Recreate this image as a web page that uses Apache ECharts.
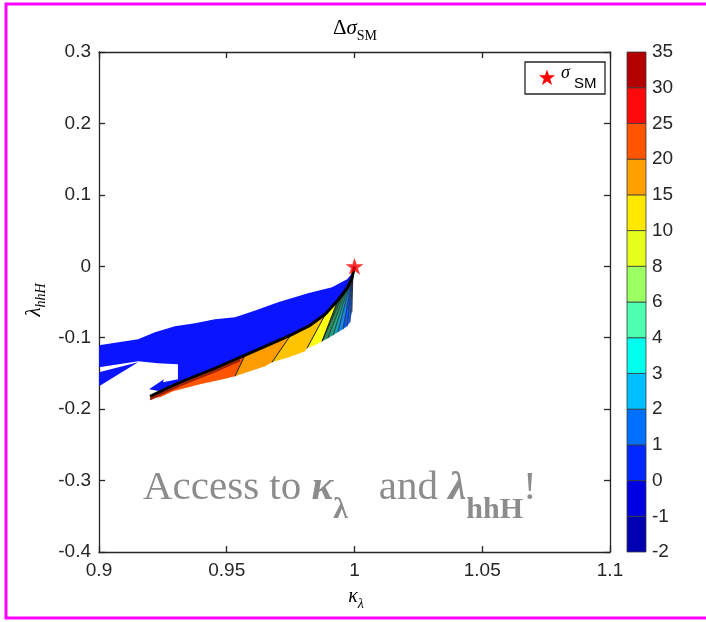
<!DOCTYPE html>
<html>
<head>
<meta charset="utf-8">
<script src="https://cdn.jsdelivr.net/npm/echarts@6/dist/echarts.min.js"></script>
<style>
  html, body { margin: 0; padding: 0; background: #ffffff; }
  #chart { width: 706px; height: 622px; }
</style>
</head>
<body>
<div id="chart"></div>
<script>
// ---- axes ----
const kappaTicks = [0.9, 0.95, 1, 1.05, 1.1];
const lambdaTicks = [-0.4, -0.3, -0.2, -0.1, 0, 0.1, 0.2, 0.3];

// ---- colour scale of the filled contours (level boundaries, one colour per band) ----
const colorLevels = [-2, -1, 0, 1, 2, 3, 4, 6, 8, 10, 15, 20, 25, 30, 35];
const levelColors = ['#0000b0', '#0000e0', '#0028ff', '#0070ff', '#00bfff', '#00ffee', '#4dffb0',
                     '#9cff62', '#e6ff1a', '#ffe800', '#ffa000', '#ff5500', '#ff0a0a', '#b30000'];

// ---- Standard-Model point ----
const smPoint = [1, 0];

// ---- contour regions (kappa_lambda, lambda_hhH) ----
const blueRegion = [
  [0.9000, -0.1106], [0.9153, -0.1022], [0.9219, -0.0924], [0.9297, -0.0840], [0.9376, -0.0798],
  [0.9454, -0.0742], [0.9532, -0.0714], [0.9603, -0.0630], [0.9701, -0.0504], [0.9818, -0.0378],
  [0.9912, -0.0294], [0.9971, -0.0182], [0.9994, -0.0084], [1.0000, 0.0000],
  [0.9990, -0.0168], [0.9971, -0.0308], [0.9935, -0.0476], [0.9885, -0.0672], [0.9826, -0.0826],
  [0.9748, -0.0966], [0.9650, -0.1120], [0.9552, -0.1275], [0.9454, -0.1429], [0.9415, -0.1485],
  [0.9356, -0.1569], [0.9309, -0.1639],
  [0.9239, -0.1751], [0.9196, -0.1723], [0.9254, -0.1583], [0.9250, -0.1625], [0.9309, -0.1583],
  [0.9309, -0.1373], [0.9231, -0.1359], [0.9153, -0.1331], [0.9000, -0.1415]
];
const blueFinger = [[0.9000, -0.1485], [0.9153, -0.1345], [0.9000, -0.1681]];

const band20to25 = [
  [0.9200, -0.1821], [0.9258, -0.1723], [0.9309, -0.1639], [0.9356, -0.1569], [0.9415, -0.1485],
  [0.9454, -0.1429], [0.9552, -0.1275], [0.9571, -0.1246], [0.9532, -0.1541], [0.9485, -0.1583],
  [0.9395, -0.1653], [0.9290, -0.1751], [0.9239, -0.1835], [0.9200, -0.1849]
];
const band15to20 = [
  [0.9571, -0.1246], [0.9650, -0.1120], [0.9748, -0.0966], [0.9751, -0.0959], [0.9677, -0.1345],
  [0.9650, -0.1401], [0.9579, -0.1485], [0.9532, -0.1541]
];
const band10to15 = [
  [0.9751, -0.0959], [0.9826, -0.0826], [0.9885, -0.0672], [0.9888, -0.0658], [0.9814, -0.1148],
  [0.9806, -0.1190], [0.9755, -0.1261], [0.9677, -0.1345]
];
const band8to10 = [
  [0.9888, -0.0658], [0.9935, -0.0476], [0.9873, -0.1050], [0.9845, -0.1106], [0.9814, -0.1148]
];
const fanRoot = [
  [0.9935, -0.0476], [0.9971, -0.0308], [0.9990, -0.0168], [0.9994, -0.0084], [0.9873, -0.1050]
];
const fanApex = [0.9994, -0.0084];
const fanTips = [
  [0.9873, -0.1050], [0.9896, -0.1008], [0.9916, -0.0966], [0.9935, -0.0924],
  [0.9955, -0.0882], [0.9971, -0.0840], [0.9982, -0.0784], [0.9990, -0.0644]
];
const fanColors = ['#2e8b57', '#23a585', '#12a0b5', '#1a86e8', '#0a5cff', '#1566ff', '#2a7cff'];

// contour lines
const boundaryCurve = [
  [0.9200, -0.1821], [0.9258, -0.1723], [0.9309, -0.1639], [0.9356, -0.1569], [0.9415, -0.1485],
  [0.9454, -0.1429], [0.9552, -0.1275], [0.9650, -0.1120], [0.9748, -0.0966], [0.9826, -0.0826],
  [0.9885, -0.0672], [0.9935, -0.0476], [0.9971, -0.0308], [0.9990, -0.0168], [1.0000, 0.0000]
];
const warmEdge = [
  [0.9200, -0.1821], [0.9258, -0.1723], [0.9309, -0.1639], [0.9356, -0.1569], [0.9415, -0.1485],
  [0.9454, -0.1429], [0.9552, -0.1275]
];
const dividers = [
  [[0.9571, -0.1246], [0.9532, -0.1541]],
  [[0.9751, -0.0959], [0.9677, -0.1345]],
  [[0.9888, -0.0658], [0.9814, -0.1148]],
  [[0.9935, -0.0476], [0.9873, -0.1050]]
];

// ---- assemble drawable lists ----
const blueFill = '#0a14ff';
const contourFills = [
  { points: blueRegion, color: blueFill },
  { points: blueFinger, color: blueFill },
  { points: band20to25, color: '#ff5500' },
  { points: band15to20, color: '#ff9c00' },
  { points: band10to15, color: '#ffc400' },
  { points: band8to10, color: '#ffff10' },
  { points: fanRoot, color: '#1f6f4a' }
];
for (let i = 0; i < fanTips.length - 1; i++) {
  contourFills.push({ points: [fanApex, fanTips[i], fanTips[i + 1]], color: fanColors[i] });
}

const contourLines = [];
dividers.forEach(d => contourLines.push({ points: d, color: '#1a1a1a', width: 1 }));
fanTips.forEach(t => contourLines.push({ points: [fanApex, t], color: '#111111', width: 0.7 }));
contourLines.push({ points: warmEdge, color: '#9a1c00', width: 2, shift: 3 });
contourLines.push({ points: boundaryCurve, color: '#000000', width: 3 });

// ---- pentagram helper for the legend glyph ----
function starPoints(cx, cy, R, r) {
  const pts = [];
  for (let k = 0; k < 10; k++) {
    const rad = k % 2 === 0 ? R : r;
    const a = -Math.PI / 2 + k * Math.PI / 5;
    pts.push([cx + rad * Math.cos(a), cy + rad * Math.sin(a)]);
  }
  return pts;
}
const starPath = 'path://M50,0L61.2,34.5L97.6,34.5L68.2,55.9L79.4,90.5L50,69.1L20.6,90.5L31.8,55.9L2.4,34.5L38.8,34.5Z';

const ink = '#262626';
const serif = 'Liberation Serif';
const sans = 'Liberation Sans';
const fmtTick = v => String(Math.round(v * 1000) / 1000);

const axisCommon = {
  axisLine: { onZero: false, lineStyle: { color: ink, width: 1.3 } },
  axisTick: { inside: true, length: 6, lineStyle: { color: ink, width: 1.3 } },
  splitLine: { show: false }
};
const tickLabel = { color: ink, fontSize: 19, fontFamily: sans };

const chart = echarts.init(document.getElementById('chart'), null, { renderer: 'canvas' });

chart.setOption({
  animation: false,
  backgroundColor: '#ffffff',
  grid: [
    { left: 99, right: 96, top: 52, bottom: 70, outerBoundsMode: 'none' },
    { left: 627, width: 19, top: 52, height: 500, outerBoundsMode: 'none' }
  ],
  xAxis: [
    Object.assign({ gridIndex: 0, type: 'value', position: 'bottom',
      min: kappaTicks[0], max: kappaTicks[kappaTicks.length - 1], interval: 0.05,
      axisLabel: Object.assign({ margin: 9, formatter: fmtTick }, tickLabel) }, axisCommon),
    Object.assign({ gridIndex: 0, type: 'value', position: 'top',
      min: kappaTicks[0], max: kappaTicks[kappaTicks.length - 1], interval: 0.05,
      axisLabel: { show: false } }, axisCommon),
    { gridIndex: 1, type: 'value', min: 0, max: 1, show: false }
  ],
  yAxis: [
    Object.assign({ gridIndex: 0, type: 'value', position: 'left',
      min: lambdaTicks[0], max: lambdaTicks[lambdaTicks.length - 1], interval: 0.1,
      axisLabel: Object.assign({ margin: 8, formatter: fmtTick }, tickLabel) }, axisCommon),
    Object.assign({ gridIndex: 0, type: 'value', position: 'right',
      min: lambdaTicks[0], max: lambdaTicks[lambdaTicks.length - 1], interval: 0.1,
      axisLabel: { show: false } }, axisCommon),
    { gridIndex: 1, type: 'value', position: 'right', min: 0, max: colorLevels.length - 1, interval: 1,
      axisLine: { show: false }, axisTick: { show: false }, splitLine: { show: false },
      axisLabel: Object.assign({ margin: 6, formatter: v => String(colorLevels[v]) }, tickLabel) }
  ],
  series: [
    {
      type: 'custom', name: 'contour fills', xAxisIndex: 0, yAxisIndex: 0, z: 2,
      data: contourFills.map(f => f.points[0]),
      encode: { x: 0, y: 1 },
      renderItem: (params, api) => {
        const f = contourFills[params.dataIndex];
        return { type: 'polygon', shape: { points: f.points.map(p => api.coord(p)) },
                 style: { fill: f.color } };
      }
    },
    {
      type: 'custom', name: 'contour lines', xAxisIndex: 0, yAxisIndex: 0, z: 3,
      data: contourLines.map(l => l.points[0]),
      encode: { x: 0, y: 1 },
      renderItem: (params, api) => {
        const l = contourLines[params.dataIndex];
        return { type: 'polyline', y: l.shift || 0,
                 shape: { points: l.points.map(p => api.coord(p)) },
                 style: { stroke: l.color, lineWidth: l.width, fill: null, lineJoin: 'round' } };
      }
    },
    {
      type: 'scatter', name: 'σSM', xAxisIndex: 0, yAxisIndex: 0, z: 5,
      data: [smPoint], symbol: starPath, symbolSize: [18, 17],
      itemStyle: { color: '#ff0000' }
    },
    {
      type: 'custom', name: 'colorbar', xAxisIndex: 2, yAxisIndex: 2,
      data: levelColors.map((c, i) => [0, i]),
      encode: { x: 0, y: 1 },
      renderItem: (params, api) => {
        const i = api.value(1);
        const a = api.coord([0, i]);
        const b = api.coord([1, i + 1]);
        return { type: 'rect', shape: { x: a[0], y: b[1], width: b[0] - a[0], height: a[1] - b[1] },
                 style: { fill: levelColors[i], stroke: '#3a3a3a', lineWidth: 0.8 } };
      }
    }
  ],
  graphic: [
    // page frame
    { type: 'rect', shape: { x: 6, y: 4, width: 720, height: 614 },
      style: { fill: null, stroke: '#ff00ff', lineWidth: 3 }, z: 100 },
    // title
    { type: 'text', x: 355, y: 32,
      style: { text: '{a|Δ}{b|σ}{c|SM}', align: 'center', verticalAlign: 'middle',
        rich: {
          a: { fontFamily: serif, fontSize: 21, fill: '#000', verticalAlign: 'bottom', lineHeight: 22, padding: [0, 0, 4, 0] },
          b: { fontFamily: serif, fontStyle: 'italic', fontSize: 21, fill: '#000', verticalAlign: 'bottom', lineHeight: 22, padding: [0, 0, 4, 0] },
          c: { fontFamily: serif, fontSize: 14, fill: '#000', verticalAlign: 'bottom', lineHeight: 16 }
        } } },
    // x axis name
    { type: 'text', x: 356, y: 601,
      style: { text: '{a|κ}{b|λ}', align: 'center', verticalAlign: 'middle',
        rich: {
          a: { fontFamily: serif, fontStyle: 'italic', fontSize: 20, fill: '#000', verticalAlign: 'bottom', lineHeight: 20, padding: [0, 0, 4, 0] },
          b: { fontFamily: serif, fontStyle: 'italic', fontSize: 14, fill: '#000', verticalAlign: 'bottom', lineHeight: 15 }
        } } },
    // y axis name
    { type: 'text', x: 38, y: 300, rotation: Math.PI / 2,
      style: { text: '{a|λ}{b|hhH}', align: 'center', verticalAlign: 'middle',
        rich: {
          a: { fontFamily: serif, fontStyle: 'italic', fontSize: 21, fill: '#000', verticalAlign: 'bottom', lineHeight: 21, padding: [0, 0, 4, 0] },
          b: { fontFamily: serif, fontStyle: 'italic', fontSize: 14, fill: '#000', verticalAlign: 'bottom', lineHeight: 15 }
        } } },
    // legend box
    { type: 'rect', shape: { x: 525, y: 62, width: 80, height: 32 },
      style: { fill: '#ffffff', stroke: ink, lineWidth: 1.3 }, z: 10 },
    { type: 'polygon', shape: { points: starPoints(547, 78, 8.5, 3.4) },
      style: { fill: '#ff0000' }, z: 11 },
    { type: 'text', x: 561, y: 73, z: 11,
      style: { text: 'σ', fontFamily: serif, fontStyle: 'italic', fontSize: 18, fill: '#000',
               align: 'left', verticalAlign: 'middle' } },
    { type: 'text', x: 574, y: 84, z: 11,
      style: { text: 'SM', fontFamily: sans, fontSize: 15, fill: '#000',
               align: 'left', verticalAlign: 'middle' } },
    // annotation
    { type: 'text', x: 143, y: 504, z: 12,
      style: { text: '{r|Access to}{k| κ}{s|λ}{r|   and }{k|λ}{s|hhH}{r|!}',
        align: 'left', verticalAlign: 'middle',
        rich: {
          r: { fontFamily: serif, fontSize: 41, fill: '#8c8c8c', verticalAlign: 'bottom', lineHeight: 42, padding: [0, 0, 16, 0] },
          k: { fontFamily: serif, fontSize: 41, fontWeight: 'bold', fontStyle: 'italic', fill: '#8c8c8c', verticalAlign: 'bottom', lineHeight: 42, padding: [0, 0, 16, 0] },
          s: { fontFamily: serif, fontSize: 30, fontWeight: 'bold', fill: '#8c8c8c', verticalAlign: 'bottom', lineHeight: 31 }
        } } }
  ]
});
</script>
</body>
</html>
